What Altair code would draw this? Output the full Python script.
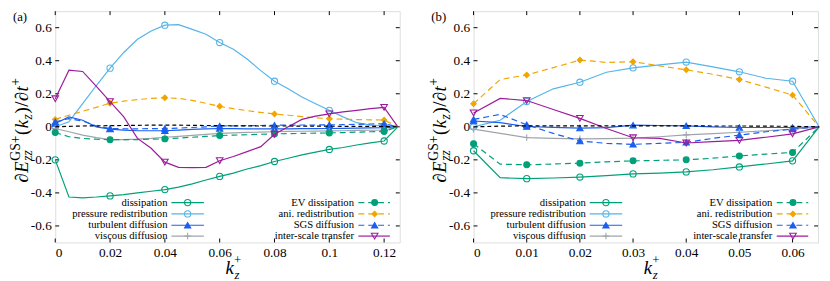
import altair as alt
import pandas as pd

# ------------------------------------------------------------------ data
NAMES = ["dissipation", "pressure redistribution", "turbulent diffusion",
         "viscous diffusion", "EV dissipation", "ani. redistribution",
         "SGS diffusion", "inter-scale transfer", "total"]

YTICKS = [-0.6, -0.4, -0.2, 0, 0.2, 0.4, 0.6]

# ---- panel (a)
KZ_A = [0, 0.005, 0.01, 0.015, 0.02, 0.025, 0.03, 0.035, 0.04, 0.045, 0.05, 0.055, 0.06,
        0.065, 0.07, 0.075, 0.08, 0.085, 0.09, 0.095, 0.1, 0.105, 0.11, 0.115, 0.12, 0.125]
MARK_A = [0, 0.02, 0.04, 0.06, 0.08, 0.1, 0.12]
XTICKS_A = [0, 0.02, 0.04, 0.06, 0.08, 0.1, 0.12]
DISS_A = [-0.20, -0.425, -0.43, -0.425, -0.418, -0.41, -0.40, -0.39, -0.38, -0.365, -0.345, -0.322, -0.30,
          -0.28, -0.255, -0.235, -0.21, -0.19, -0.17, -0.153, -0.137, -0.125, -0.11, -0.097, -0.086, 0.0]
PRES_A = [0.0, 0.03, 0.14, 0.25, 0.355, 0.45, 0.53, 0.58, 0.615, 0.618, 0.59, 0.56, 0.51,
          0.47, 0.41, 0.34, 0.276, 0.23, 0.18, 0.14, 0.10, 0.06, 0.025, 0.01, 0.005, 0.0]
TURB_A = [0.02, 0.06, 0.04, 0.0, -0.014, -0.02, -0.024, -0.024, -0.024, -0.02, -0.015, -0.012, -0.01,
          -0.011, -0.012, -0.012, -0.012, -0.012, -0.011, -0.011, -0.01, -0.009, -0.008, -0.006, -0.005, 0.0]
VISC_A = [-0.01, -0.03, -0.05, -0.065, -0.078, -0.078, -0.075, -0.07, -0.063, -0.058, -0.052, -0.046, -0.04,
          -0.037, -0.034, -0.032, -0.03, -0.028, -0.027, -0.026, -0.025, -0.024, -0.022, -0.021, -0.02, 0.0]
EVD_A = [-0.035, -0.06, -0.07, -0.075, -0.078, -0.078, -0.077, -0.075, -0.073, -0.068, -0.063, -0.058, -0.053,
         -0.05, -0.048, -0.045, -0.043, -0.041, -0.04, -0.038, -0.037, -0.035, -0.032, -0.03, -0.028, 0.0]
ANI_A = [0.045, 0.07, 0.094, 0.118, 0.143, 0.155, 0.165, 0.172, 0.176, 0.172, 0.16, 0.142, 0.124,
         0.11, 0.098, 0.087, 0.078, 0.07, 0.062, 0.055, 0.049, 0.046, 0.044, 0.042, 0.041, 0.0]
SGS_A = [0.03, 0.05, 0.035, 0.005, -0.01, -0.012, -0.012, -0.011, -0.01, -0.008, -0.004, 0.0, 0.005,
         0.006, 0.007, 0.008, 0.01, 0.01, 0.011, 0.011, 0.012, 0.013, 0.015, 0.017, 0.018, 0.0]
INTER_A = [0.17, 0.343, 0.335, 0.245, 0.153, 0.06, -0.07, -0.13, -0.214, -0.245, -0.247, -0.245, -0.205,
           -0.18, -0.15, -0.12, -0.045, 0.0, 0.045, 0.065, 0.078, 0.09, 0.1, 0.11, 0.118, 0.0]
TOTAL_A = [0.0, 0.003, 0.005, 0.006, 0.007, 0.008, 0.009, 0.01, 0.01, 0.01, 0.009, 0.008, 0.007,
           0.006, 0.006, 0.005, 0.005, 0.005, 0.004, 0.004, 0.004, 0.003, 0.003, 0.003, 0.002, 0.0]

# ---- panel (b)
KZ_B = [0, 0.005, 0.01, 0.015, 0.02, 0.025, 0.03, 0.035, 0.04, 0.045, 0.05, 0.055, 0.06, 0.065]
MARK_B = [0, 0.01, 0.02, 0.03, 0.04, 0.05, 0.06]
XTICKS_B = [0, 0.01, 0.02, 0.03, 0.04, 0.05, 0.06]
DISS_B = [-0.145, -0.308, -0.314, -0.31, -0.304, -0.295, -0.285, -0.28, -0.273, -0.26, -0.243, -0.225, -0.206, 0.0]
PRES_B = [0.0, 0.04, 0.153, 0.23, 0.27, 0.33, 0.357, 0.375, 0.392, 0.363, 0.333, 0.294, 0.276, 0.0]
TURB_B = [0.035, 0.025, 0.002, -0.003, -0.008, -0.005, 0.01, 0.008, 0.006, 0.0, -0.004, -0.004, -0.004, 0.0]
VISC_B = [-0.014, -0.04, -0.065, -0.07, -0.073, -0.072, -0.069, -0.06, -0.049, -0.041, -0.033, -0.024, -0.014, 0.0]
EVD_B = [-0.102, -0.226, -0.23, -0.225, -0.22, -0.212, -0.206, -0.203, -0.2, -0.19, -0.176, -0.165, -0.155, 0.0]
ANI_B = [0.14, 0.286, 0.314, 0.358, 0.404, 0.39, 0.394, 0.369, 0.345, 0.318, 0.286, 0.24, 0.192, 0.0]
SGS_B = [0.045, 0.075, 0.012, -0.04, -0.086, -0.1, -0.106, -0.1, -0.094, -0.07, -0.05, -0.03, -0.014, 0.0]
INTER_B = [0.084, 0.172, 0.159, 0.105, 0.051, -0.01, -0.066, -0.07, -0.098, -0.09, -0.082, -0.063, -0.043, 0.0]
TOTAL_B = [0.0, 0.004, 0.006, 0.006, 0.006, 0.006, 0.006, 0.006, 0.006, 0.005, 0.005, 0.004, 0.003, 0.0]

SERIES_A = dict(zip(NAMES, [DISS_A, PRES_A, TURB_A, VISC_A, EVD_A, ANI_A, SGS_A, INTER_A, TOTAL_A]))
SERIES_B = dict(zip(NAMES, [DISS_B, PRES_B, TURB_B, VISC_B, EVD_B, ANI_B, SGS_B, INTER_B, TOTAL_B]))

# ------------------------------------------------------------------ styles
FONT = "Liberation Serif, Times New Roman, serif"
W, H = 350, 235
GREEN, SKY, BLUE, GREY = "#00a078", "#56b4e9", "#1a5ff0", "#a0a4aa"
ORANGE, PURPLE = "#f0a500", "#9c1c9c"
PLUS = "M-1,0L1,0M0,-1L0,1"
STYLE = {
    "dissipation": dict(color=GREEN, dash=None, shape="circle", filled=False, size=40),
    "pressure redistribution": dict(color=SKY, dash=None, shape="circle", filled=False, size=40),
    "turbulent diffusion": dict(color=BLUE, dash=None, shape="triangle-up", filled=True, size=40),
    "viscous diffusion": dict(color=GREY, dash=None, shape=PLUS, filled=False, size=45),
    "EV dissipation": dict(color=GREEN, dash=[6, 4], shape="circle", filled=True, size=36),
    "ani. redistribution": dict(color=ORANGE, dash=[6, 4], shape="diamond", filled=True, size=30),
    "SGS diffusion": dict(color=BLUE, dash=[6, 4], shape="triangle-up", filled=True, size=40),
    "inter-scale transfer": dict(color=PURPLE, dash=None, shape="triangle-down", filled=False, size=45),
    "total": dict(color="black", dash=[4, 3], shape=None, filled=False, size=0),
}

EM = {"∂": 0.494, "E": 0.611, "G": 0.722, "S": 0.556, "+": 0.564, "z": 0.389,
      "(": 0.333, ")": 0.333, "k": 0.444, "/": 0.278, "t": 0.278}


def tw(s, size):
    return sum(EM[c] for c in s) * size


ONE = pd.DataFrame({"d": [0]})


def text_layer(txt, x, y, size, italic=False, angle=0, align="left", baseline="alphabetic"):
    kw = dict(text=txt, font=FONT, fontSize=size, align=align, baseline=baseline, color="black")
    if italic:
        kw["fontStyle"] = "italic"
    if angle:
        kw["angle"] = angle
    return alt.Chart(ONE).mark_text(**kw).encode(x=alt.value(x), y=alt.value(y))


def ytitle_layers():
    M, S = 19, 14
    xb = -28
    seq = [[("∂", M, False, 0)], [("E", M, True, 0)],
           [("GS+", S, False, -8), ("zz", S, True, 4)],
           [("(", M, False, 0)], [("k", M, True, 0)], [("z", S, True, 4)],
           [(")", M, False, 0)], [("/", M, False, 0)], [("∂", M, False, 0)],
           [("t", M, True, 0)], [("+", S, False, -8)]]
    cur = 174
    out = []
    for group in seq:
        adv = 0
        for txt, size, it, dx in group:
            out.append(text_layer(txt, xb + dx, cur, size, italic=it, angle=270))
            adv = max(adv, tw(txt, size))
        cur -= adv + 0.5
    return out


def xtitle_layers():
    x0 = 173
    return [text_layer("k", x0, 267, 19, italic=True),
            text_layer("z", x0 + 9, 272, 13, italic=True),
            text_layer("+", x0 + 8.5, 256.5, 13)]


def panel(kz, series, markers, xmax, xticks, tag):
    xs = alt.X("kz:Q", scale=alt.Scale(domain=[0, xmax], nice=False, zero=False),
               axis=alt.Axis(values=xticks, ticks=False, domain=False, grid=False, title=None,
                             labelFont=FONT, labelFontSize=13.5, labelColor="black", labelPadding=3,
                             labelExpr="datum.value == 0 ? '0' : format(datum.value, '~g')"))
    ys = alt.Y("v:Q", scale=alt.Scale(domain=[-0.7, 0.7], nice=False, zero=False),
               axis=alt.Axis(values=YTICKS, ticks=False, domain=False, grid=False, title=None,
                             labelFont=FONT, labelFontSize=13.5, labelColor="black", labelPadding=4,
                             labelExpr="datum.value == 0 ? '0' : (datum.value < 0 ? '-' : '') + format(abs(datum.value), '.1f')"))
    layers = []
    # inward ticks on all four sides
    tx = pd.DataFrame({"kz": xticks})
    ty = pd.DataFrame({"v": YTICKS})
    layers.append(alt.Chart(tx).mark_rule(color="black", strokeWidth=1).encode(x=xs, y=alt.value(0), y2=alt.value(4)))
    layers.append(alt.Chart(tx).mark_rule(color="black", strokeWidth=1).encode(x=xs, y=alt.value(H - 4), y2=alt.value(H)))
    layers.append(alt.Chart(ty).mark_rule(color="black", strokeWidth=1).encode(y=ys, x=alt.value(0), x2=alt.value(4)))
    layers.append(alt.Chart(ty).mark_rule(color="black", strokeWidth=1).encode(y=ys, x=alt.value(W - 4), x2=alt.value(W)))

    mk = set(round(m, 4) for m in markers)
    for name in NAMES:
        st = STYLE[name]
        df = pd.DataFrame({"kz": kz, "v": series[name]})
        lkw = dict(color=st["color"], strokeWidth=1.2)
        if st["dash"]:
            lkw["strokeDash"] = st["dash"]
        layers.append(alt.Chart(df).mark_line(**lkw).encode(x=xs, y=ys))
        if st["shape"]:
            dm = df[df["kz"].round(4).isin(mk)]
            pkw = dict(shape=st["shape"], filled=st["filled"], size=st["size"], opacity=1,
                       strokeWidth=1.1, stroke=st["color"])
            if st["filled"]:
                pkw["fill"] = st["color"]
            layers.append(alt.Chart(dm).mark_point(**pkw).encode(x=xs, y=ys))

    # legend (two columns, label left of sample)
    rows = [194.5, 206, 217.5, 228.5]
    cols = [(114, 118, 151, 134.5), (303.5, 308, 340, 324.5)]
    for i, name in enumerate(NAMES[:8]):
        st = STYLE[name]
        tx_r, l0, l1, mx = cols[i // 4]
        ry = rows[i % 4]
        layers.append(text_layer(name, tx_r, ry, 10.8, align="right", baseline="middle"))
        rkw = dict(color=st["color"], strokeWidth=1.2)
        if st["dash"]:
            rkw["strokeDash"] = st["dash"]
        layers.append(alt.Chart(ONE).mark_rule(**rkw).encode(x=alt.value(l0), x2=alt.value(l1), y=alt.value(ry)))
        pkw = dict(shape=st["shape"], filled=st["filled"], size=st["size"], opacity=1, strokeWidth=1.1, stroke=st["color"])
        if st["filled"]:
            pkw["fill"] = st["color"]
        layers.append(alt.Chart(ONE).mark_point(**pkw).encode(x=alt.value(mx), y=alt.value(ry)))

    layers.append(text_layer(tag, -43, 6, 13, baseline="middle"))
    layers += ytitle_layers()
    layers += xtitle_layers()
    return alt.layer(*layers).properties(width=W, height=H)


pa = panel(KZ_A, SERIES_A, MARK_A, 0.1257, XTICKS_A, "(a)")
pb = panel(KZ_B, SERIES_B, MARK_B, 0.0648, XTICKS_B, "(b)")

chart = alt.hconcat(pa, pb, spacing=75, bounds="flush", padding=0).configure_view(
    stroke="black", strokeWidth=1).configure(font=FONT)

chart.save("out.html", embed_options={"renderer": "svg", "actions": False})
